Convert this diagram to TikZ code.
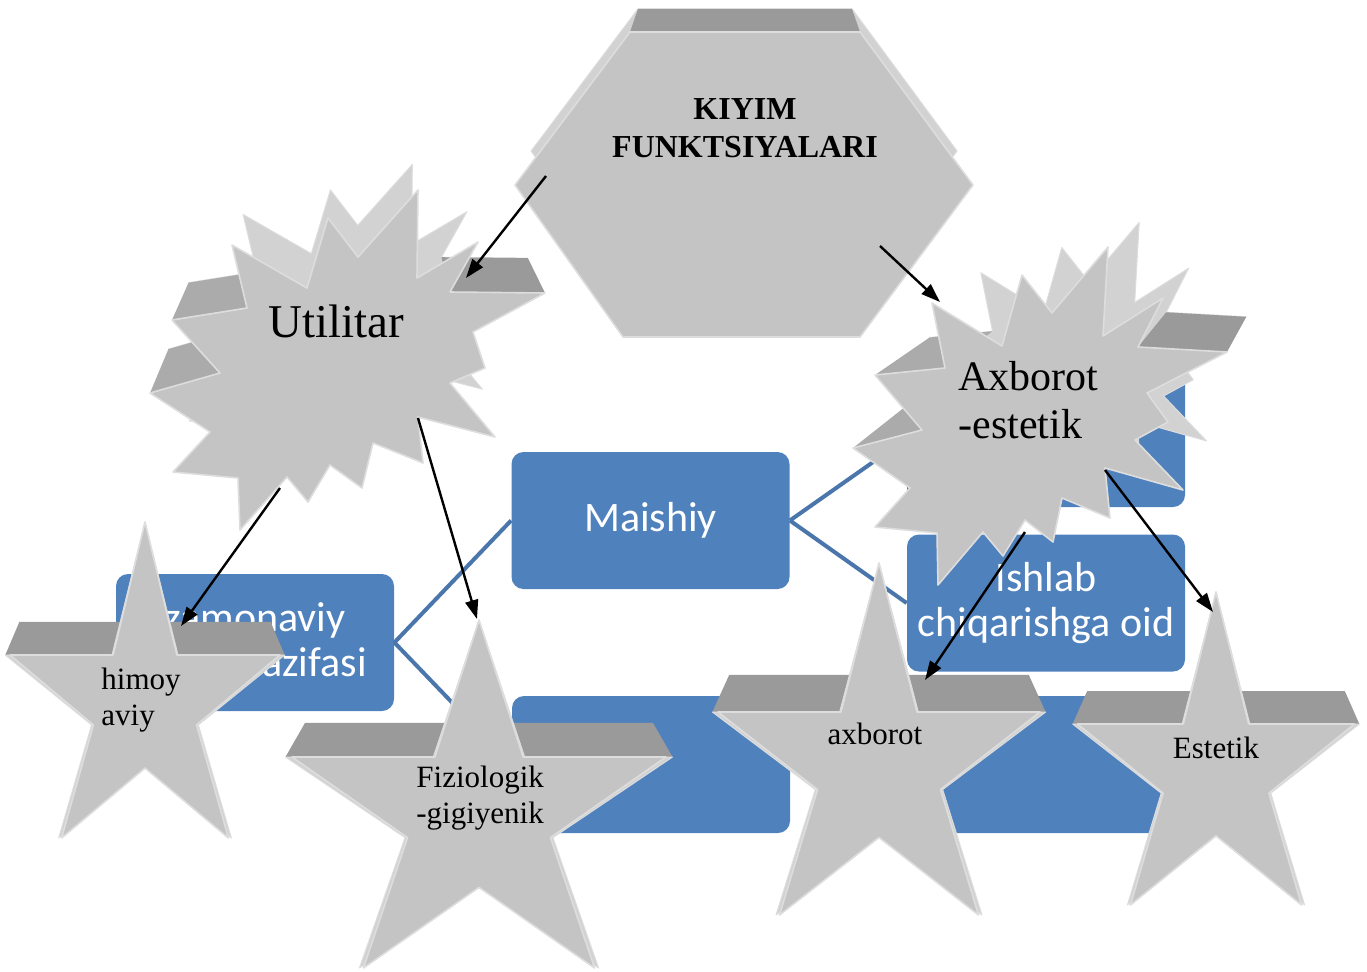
\documentclass[tikz,border=0pt]{standalone}
\usepackage{fontspec}
\setmainfont{Liberation Serif}
\newfontfamily\boxfont{Carlito}
\usepackage{xcolor}
\usepackage{tikz}
\usetikzlibrary{arrows.meta}
\definecolor{facegray}{HTML}{C4C4C4}
\definecolor{edgegray}{HTML}{DDDDDD}
\definecolor{sidegray}{HTML}{D2D2D2}
\definecolor{bandgray}{HTML}{9A9A9A}
\definecolor{midgray}{HTML}{ABABAB}
\definecolor{boxblue}{HTML}{4F81BD}
\definecolor{lineblue}{HTML}{4A76AB}
\tikzset{
  gface/.style={fill=facegray, draw=edgegray, line width=0.8pt, line join=round},
  gside/.style={fill=sidegray, draw=edgegray, line width=0.5pt, line join=round},
  gband/.style={fill=bandgray},
  mband/.style={fill=midgray},
  box/.style={rectangle, rounded corners=6pt, fill=boxblue, text=white, align=center,
    font=\boxfont\fontsize{21}{22.5}\selectfont, minimum width=139pt, minimum height=68.5pt, inner sep=0pt},
  link/.style={draw=lineblue, line width=2pt},
  arr/.style={draw=black, line width=1.2pt, -{Triangle[length=9.5pt,width=6.5pt]}},
  lab/.style={text=black, inner sep=0pt},
  startext/.style={font=\fontsize{15.5}{17.75}\selectfont},
}
\begin{document}
\begin{tikzpicture}[x=0.5pt,y=-0.5pt]
  \useasboundingbox (0,0) rectangle (1367,971);
  \def\hexpts{(630,32) -- (860,32) -- (973,185) -- (860,337) -- (623,337) -- (515,185) -- cycle}
  \def\utilpts{(232,245) -- (307,288) -- (328,218) -- (358,257) -- (418,190) -- (417,278) -- (478,242)
    -- (450,292) -- (545,293) -- (473,332) -- (485,368) -- (450,383) -- (495,437) -- (418,417)
    -- (423,463) -- (373,443) -- (362,488) -- (330,465) -- (308,502) -- (287,477) -- (240,530)
    -- (238,478) -- (173,472) -- (210,432) -- (150,393) -- (220,373) -- (172,320) -- (247,308) -- cycle}
  \def\axbpts{(932,303) -- (1002,346) -- (1022,275) -- (1052,313) -- (1108,247) -- (1103,336)
    -- (1163,298) -- (1138,347) -- (1227,352) -- (1147,393) -- (1168,422) -- (1135,440) -- (1183,490)
    -- (1105,468) -- (1110,518) -- (1062,498) -- (1053,542) -- (1025,520) -- (1003,556) -- (983,532)
    -- (938,585) -- (937,533) -- (875,527) -- (910,488) -- (853,448) -- (922,430) -- (875,375) -- (945,368) -- cycle}
  \def\starpts#1#2#3#4#5{(#1,#2) -- ({#1+0.236*#5},#3) -- ({#1+#5},#3) -- ({#1+0.382*#5},{#3+0.382*(#4-#3)})
      -- ({#1+0.618*#5},#4) -- (#1,{#3+0.618*(#4-#3)}) -- ({#1-0.618*#5},#4)
      -- ({#1-0.382*#5},{#3+0.382*(#4-#3)}) -- ({#1-#5},#3) -- ({#1-0.236*#5},#3) -- cycle}
  \def\drawstar#1#2#3#4#5{%
    \fill[gband] ({#1-0.93*#5},{#2+0.75*(#3-#2)}) -- ({#1+0.93*#5},{#2+0.75*(#3-#2)})
      -- ({#1+1.035*#5},#3) -- ({#1-1.035*#5},#3) -- cycle;
    \begin{scope}[shift={(#1,0)}, xscale=1.035, shift={(-#1,0)}]
      \path[gside] \starpts{#1}{#2}{#3}{#4}{#5};
    \end{scope}
    \path[gface] \starpts{#1}{#2}{#3}{#4}{#5};}

  % hierarchy in the background
  \node[box] (root) at (255,642.5) {zamonaviy\\\phantom{kiyim }vazifasi};
  \node[box] (maishiy) at (650.5,520.5) {Maishiy};
  \node[box] (upper) at (1046,438.5) {};
  \node[box] (ishlab) at (1046,603) {Ishlab\\chiqarishga oid};
  \node[box] (lower) at (651,764.5) {};
  \node[box] (lowright) at (1046,764.5) {};
  \draw[link] (root.east) -- (maishiy.west) (root.east) -- (lower.west);
  \draw[link] (maishiy.east) -- (upper.west) (maishiy.east) -- (ishlab.west);
  \draw[link] (lower.east) -- (lowright.west);

  % hexagon
  \begin{scope}[shift={(0,-34)}, scale around={0.93:(745,185)}]
    \path[gside] \hexpts;
  \end{scope}
  \fill[gband] (638,9) -- (852,9) -- (860,32) -- (630,32) -- cycle;
  \path[gface] \hexpts;
  \node[lab, align=center, font=\bfseries\fontsize{16}{19}\selectfont] (title) at (745,128.5) {KIYIM\\FUNKTSIYALARI};

  % Utilitar
  \begin{scope}[shift={(0,-40)}, scale around={0.91:(355,350)}]
    \path[gside] \utilpts;
  \end{scope}
  \fill[gband] (450,292) -- (441.5,257.2) -- (527.9,258.1) -- (545,293) -- cycle;
  \fill[mband] (172,320) -- (188.5,282.7) -- (256.7,271.8) -- (247,308) -- cycle;
  \fill[mband] (150,393) -- (168.4,349.1) -- (232.2,330.9) -- (220,373) -- cycle;
  \path[gface] \utilpts;
  \node[lab, font=\fontsize{23.5}{28}\selectfont] (util) at (336,321) {Utilitar};

  % Axborot-estetik
  \begin{scope}[shift={(38,-42)}, scale around={0.9:(1040,420)}]
    \path[gside] \axbpts;
  \end{scope}
  \fill[gband] (1138,347) -- (1166.2,312.3) -- (1246.3,316.8) -- (1227,352) -- cycle;
  \fill[mband] (875,375) -- (929.5,337.5) -- (992.5,331.2) -- (945,368) -- cycle;
  \fill[mband] (853,448) -- (909.7,403.2) -- (971.8,387) -- (922,430) -- cycle;
  \path[gface] \axbpts;
  \node[lab, align=left, anchor=north west, font=\fontsize{21}{24}\selectfont] (axb) at (958,361) {Axborot\\-estetik};

  % stars
  \drawstar{145}{522}{655}{838}{135}
  \node[lab, startext, align=left, anchor=north west] (him) at (101,668) {himoy\\aviy};
  \drawstar{479}{620}{757}{968}{187}
  \node[lab, startext, align=left, anchor=north west] (fiz) at (416,766) {Fiziologik\\-gigiyenik};
  \drawstar{879}{563}{712}{915}{161}
  \node[lab, startext, anchor=base] (axs) at (875,744) {axborot};
  \drawstar{1216}{592}{724}{905}{138.5}
  \node[lab, startext, anchor=base] (est) at (1216,758) {Estetik};

  % arrows
  \coordinate (hexL) at (546,176);
  \coordinate (utilTop) at (466,278);
  \coordinate (hexR) at (880,246);
  \coordinate (axbTop) at (940,302);
  \coordinate (utilL) at (280,488);
  \coordinate (himTip) at (181,626);
  \coordinate (utilR) at (418,418);
  \coordinate (fizTip) at (477,619);
  \coordinate (axbL) at (1025,532);
  \coordinate (axsTip) at (925,680);
  \coordinate (axbR) at (1105,470);
  \coordinate (estTip) at (1213,612);
  \draw[arr] (hexL) -- (utilTop);
  \draw[arr] (hexR) -- (axbTop);
  \draw[arr] (utilL) -- (himTip);
  \draw[arr] (utilR) -- (fizTip);
  \draw[arr] (axbL) -- (axsTip);
  \draw[arr] (axbR) -- (estTip);
\end{tikzpicture}
\end{document}
